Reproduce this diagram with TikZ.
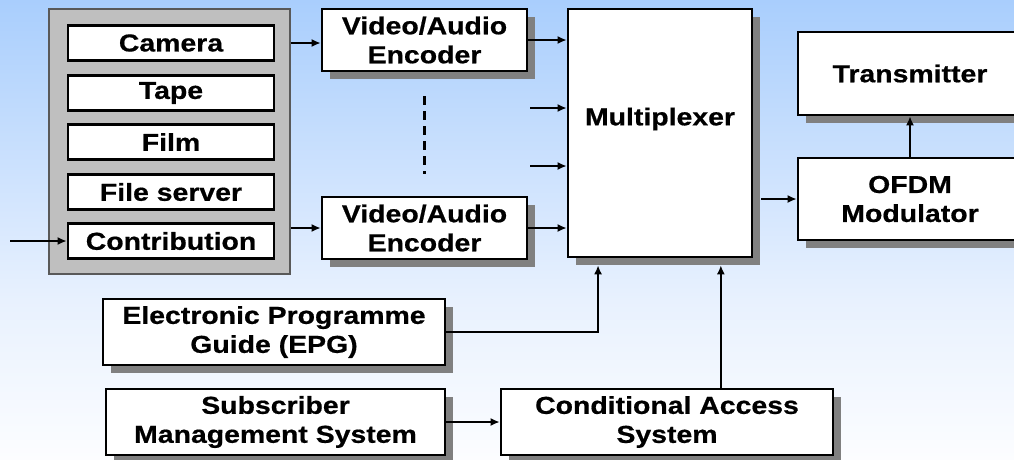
\documentclass[tikz,border=0pt]{standalone}
\usepackage{fontspec}
\setmainfont[FakeStretch=1.16,BoldFeatures={FakeBold=0.6}]{Liberation Sans}
\usepackage{xcolor}
\usepackage{tikz}
\usetikzlibrary{shadows}
\usetikzlibrary{positioning}
\usetikzlibrary{arrows,arrows.meta,shapes}
\usetikzlibrary{calc}
\definecolor{bgtop}{HTML}{A9CEFD}
\definecolor{bgmid}{HTML}{E8F1FE}
\definecolor{bgbot}{HTML}{FCFDFF}
\definecolor{panelgray}{HTML}{BFBFBF}
\tikzstyle{boxfont}=[font=\fontsize{24.5}{29}\selectfont\bfseries]
\tikzstyle{srcbox}=[rectangle,draw=black,line width=2.6pt,fill=white,minimum width=206pt,minimum height=35pt,inner sep=0pt,boxfont]
\tikzstyle{block}=[rectangle,draw=black,line width=2.6pt,fill=white,align=center,inner sep=0pt,boxfont,drop shadow={shadow xshift=8pt,shadow yshift=-8pt,fill=black!50,opacity=1}]
\tikzstyle{edge} = [draw,line width=2.2pt,-{Latex[length=9pt,width=8pt]}]
\tikzstyle{undirectededge} = [draw,line width=2.2pt]

\begin{document}
\begin{tikzpicture}[x=1pt,y=-1pt]

 \clip (0,0) rectangle (1014,459);
 \shade[top color=bgtop, bottom color=bgmid] (0,0) rectangle (1014,300);
 \shade[top color=bgmid, bottom color=bgbot] (0,300) rectangle (1014,459);

 %Sources
 \node[rectangle,draw=black!65,line width=1.4pt,fill=panelgray,minimum width=241pt,minimum height=265pt] (panel) at (169.5,141.5) {};

 \def\dx{171};
  \foreach \y/\name/\label in {43/cam/Camera, 93/tape/Tape, 142/film/Film, 192/fsrv/File server, 241/contr/Contribution}
          \node[srcbox] (\name) at (\dx, \y) {\label};

 %Blocks
  \foreach \x/\y/\w/\h/\name/\label in {424.5/40/205/62/enc1/{Video/Audio\\Encoder}, 424.5/228/205/62/enc2/{Video/Audio\\Encoder}, 910/73.5/224/83/tx/{Transmitter}, 910/199/224/82/ofdm/{OFDM\\Modulator}, 274/332/342/66/epg/{Electronic Programme\\Guide (EPG)}, 275.5/422/339/66/sms/{Subscriber\\Management System}, 667/422/332/66/cas/{Conditional Access\\System}}
          \node[block,minimum width=\w pt,minimum height=\h pt] (\name) at (\x, \y) {\label};

 \node[block,minimum width=184pt,minimum height=248pt] (mux) at (660,133) {};
 \node[boxfont] (muxlabel) at ([yshift=14pt]mux.center) {Multiplexer};

 %Free ends
 \coordinate (in) at (10,241);
 \coordinate (s2) at (530,108);
 \coordinate (s3) at (530,166);
 \coordinate (epgin) at ($(mux.south west)!0.168!(mux.south east)$);
 \coordinate (casin) at ($(mux.south west)!0.826!(mux.south east)$);

 %Connections
  \foreach \source/ \dest in {in/contr, panel.east |- cam/cam -| enc1.west, panel.east |- enc2/enc2.west, enc1.east/enc1.east -| mux.west, s2/s2 -| mux.west, s3/s3 -| mux.west, enc2.east/enc2.east -| mux.west, ofdm/tx, sms/cas}
         \path[edge] (\source) -- (\dest);

 \path[edge] ([xshift=8pt]mux.east |- ofdm) -- (ofdm.west);
 \path[edge,shorten >=7pt] (epg.east) -| (epgin);
 \path[edge,shorten >=7pt] (cas.north -| casin) -- (casin);

 \path[undirectededge,dash pattern=on 9pt off 6pt] ([yshift=-24pt]enc1.south) -- ([yshift=22pt]enc2.north);

\end{tikzpicture}
\end{document}
